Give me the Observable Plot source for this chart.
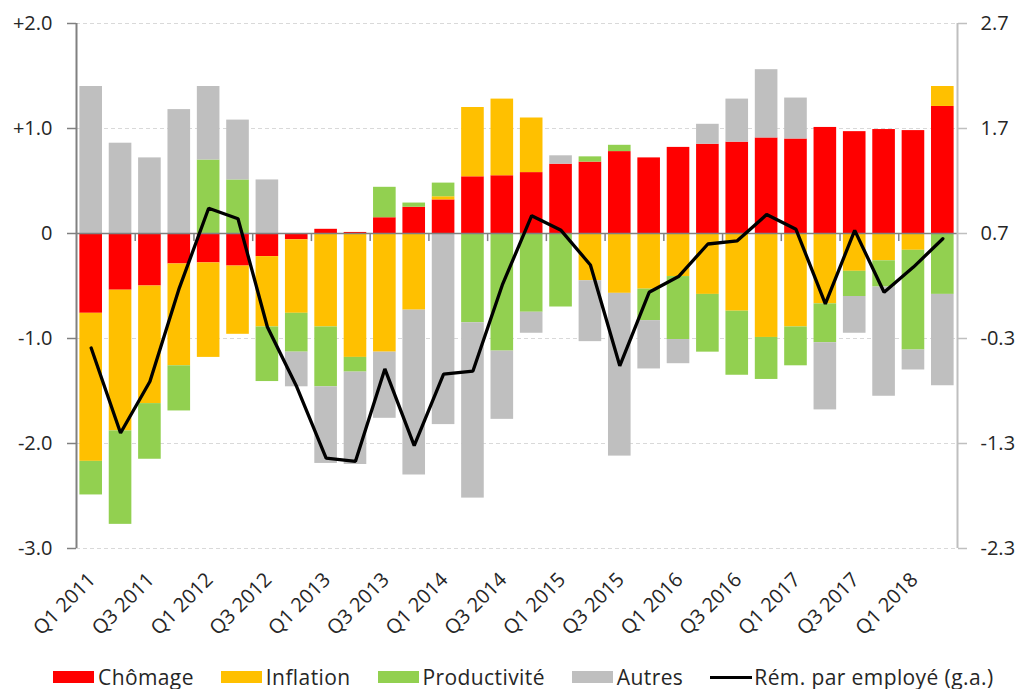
<!DOCTYPE html>
<html>
<head>
<meta charset="utf-8">
<script src="https://cdn.jsdelivr.net/npm/d3@7"></script>
<script src="https://cdn.jsdelivr.net/npm/@observablehq/plot@0.6"></script>
<style>
  html, body { margin: 0; padding: 0; background: white; font-family: "Open Sans", sans-serif; overflow: hidden; width: 1019px; height: 689px; }
  #chart svg { display: block; max-width: none !important; }
  #legend { display: flex; justify-content: flex-start; align-items: center; height: 34px; margin-top: 5px; width: 1019px; padding-left: 53px; box-sizing: border-box; color: #262626; font-size: 21px; letter-spacing: 0.4px; white-space: nowrap; }
  .item { display: flex; align-items: center; margin-right: 27px; }
  .item:last-child { margin-right: 0; }
  .sw { width: 41px; height: 12px; margin-right: 4px; }
  .ln { width: 42px; height: 3px; background: #000; margin-right: 2px; }
</style>
</head>
<body>
<div id="chart"></div>
<div id="legend"></div>
<script>
const quarters = ["Q1 2011","Q2 2011","Q3 2011","Q4 2011","Q1 2012","Q2 2012","Q3 2012","Q4 2012",
  "Q1 2013","Q2 2013","Q3 2013","Q4 2013","Q1 2014","Q2 2014","Q3 2014","Q4 2014",
  "Q1 2015","Q2 2015","Q3 2015","Q4 2015","Q1 2016","Q2 2016","Q3 2016","Q4 2016",
  "Q1 2017","Q2 2017","Q3 2017","Q4 2017","Q1 2018","Q2 2018"];

const series = ["Chômage", "Inflation", "Productivité", "Autres"];
const colors = ["#FF0000", "#FFC000", "#92D050", "#BFBFBF"];
const lineLabel = "Rém. par employé (g.a.)";

const chomage = [-0.76,-0.54,-0.50,-0.29,-0.28,-0.31,-0.22,-0.06,0.04,0.01,0.15,0.25,0.32,0.54,0.55,0.58,
  0.66,0.68,0.78,0.72,0.82,0.85,0.87,0.91,0.90,1.01,0.97,0.99,0.98,1.21];
const inflation = [-1.41,-1.34,-1.12,-0.97,-0.90,-0.65,-0.67,-0.70,-0.89,-1.18,-1.13,-0.73,0.03,0.66,0.73,0.52,
  0,-0.45,-0.57,-0.53,-0.41,-0.58,-0.74,-0.99,-0.89,-0.67,-0.36,-0.26,-0.16,0.19];
const productivite = [-0.32,-0.89,-0.53,-0.43,0.70,0.51,-0.52,-0.37,-0.57,-0.14,0.29,0.04,0.13,-0.85,-1.12,-0.75,
  -0.70,0.05,0.06,-0.30,-0.60,-0.55,-0.61,-0.40,-0.37,-0.37,-0.24,-0.25,-0.95,-0.58];
const autres = [1.40,0.86,0.72,1.18,0.70,0.57,0.51,-0.33,-0.73,-0.88,-0.63,-1.57,-1.82,-1.67,-0.65,-0.20,
  0.08,-0.58,-1.55,-0.46,-0.23,0.19,0.41,0.65,0.39,-0.64,-0.35,-1.04,-0.19,-0.87];
// right axis (g.a.) values
const remuneration = [-0.39,-1.20,-0.71,0.18,0.94,0.84,-0.19,-0.76,-1.44,-1.47,-0.59,-1.32,-0.64,-0.61,0.21,0.87,
  0.73,0.40,-0.56,0.14,0.29,0.60,0.63,0.88,0.74,0.03,0.73,0.14,0.38,0.65];

const leftTicks = [2, 1, 0, -1, -2, -3];
const rightOffset = 0.7;
const labelQuarters = quarters.filter((q, i) => i % 2 === 0);
const boundaryQuarters = quarters.filter((q, i) => i % 2 === 1 && i < quarters.length - 1);

const seriesValues = [chomage, inflation, productivite, autres];
const rows = [];
series.forEach((s, si) => quarters.forEach((q, qi) => rows.push({q, s, v: seriesValues[si][qi]})));
const lineRows = quarters.map((q, i) => ({q, r: remuneration[i]}));

const W = 1019, H = 655, mL = 76, mR = 62, mT = 23, mB = 107;
const step = (W - mL - mR) / quarters.length;

const fmtLeft = d => d === 0 ? "0" : (d > 0 ? "+" : "-") + Math.abs(d).toFixed(1);
const fmtRight = d => { const v = d + rightOffset; return (v < 0 ? "-" : "") + Math.abs(v).toFixed(1); };

const chart = Plot.plot({
  width: W, height: H, marginTop: mT, marginBottom: mB, marginLeft: mL, marginRight: mR,
  style: {fontFamily: "Open Sans", fontSize: "20px", color: "#262626", background: "white"},
  x: {domain: quarters, paddingInner: 0.23, paddingOuter: 0.115, align: 0.5, round: false, axis: null},
  y: {domain: [-3, 2], label: null},
  color: {domain: series, range: colors},
  marks: [
    Plot.ruleY(leftTicks.filter(d => d !== 0), {stroke: "#D9D9D9", strokeWidth: 1, strokeDasharray: "4,3"}),
    Plot.barY(rows, {x: "q", y: "v", fill: "s"}),
    Plot.ruleY([0], {stroke: "#808080", strokeWidth: 1.5}),
    Plot.ruleX(boundaryQuarters, {x: d => d, y1: 0, y2: -0.077, dx: step / 2, stroke: "#808080", strokeWidth: 1.5}),
    Plot.ruleX([quarters[0]], {x: d => d, y1: -3, y2: 2, dx: -step / 2, stroke: "#808080", strokeWidth: 2}),
    Plot.ruleX([quarters[quarters.length - 1]], {x: d => d, y1: -3, y2: 2, dx: step / 2, stroke: "#BFBFBF", strokeWidth: 2}),
    Plot.line(lineRows, {x: "q", y: d => d.r - rightOffset, stroke: "#000", strokeWidth: 3.3, strokeLinejoin: "miter"}),
    Plot.axisY({anchor: "left", ticks: leftTicks, tickFormat: fmtLeft, tickSize: 9, tickPadding: 15, stroke: "#808080", strokeWidth: 1.5, label: null}),
    Plot.axisY({anchor: "right", ticks: leftTicks, tickFormat: fmtRight, tickSize: 9, tickPadding: 14, stroke: "#BFBFBF", strokeWidth: 1.5, label: null}),
    Plot.text(labelQuarters, {x: d => d, y: -3, text: d => d, rotate: -45, textAnchor: "end", lineAnchor: "middle", dx: 1, dy: 28, fontSize: 20, fill: "#262626"})
  ]
});
document.getElementById("chart").appendChild(chart);

const legend = document.getElementById("legend");
series.forEach((s, i) => {
  const it = document.createElement("div"); it.className = "item";
  it.innerHTML = `<div class="sw" style="background:${colors[i]}"></div><span>${s}</span>`;
  legend.appendChild(it);
});
const li = document.createElement("div"); li.className = "item";
li.innerHTML = `<div class="ln"></div><span>${lineLabel}</span>`;
legend.appendChild(li);
</script>
</body>
</html>
